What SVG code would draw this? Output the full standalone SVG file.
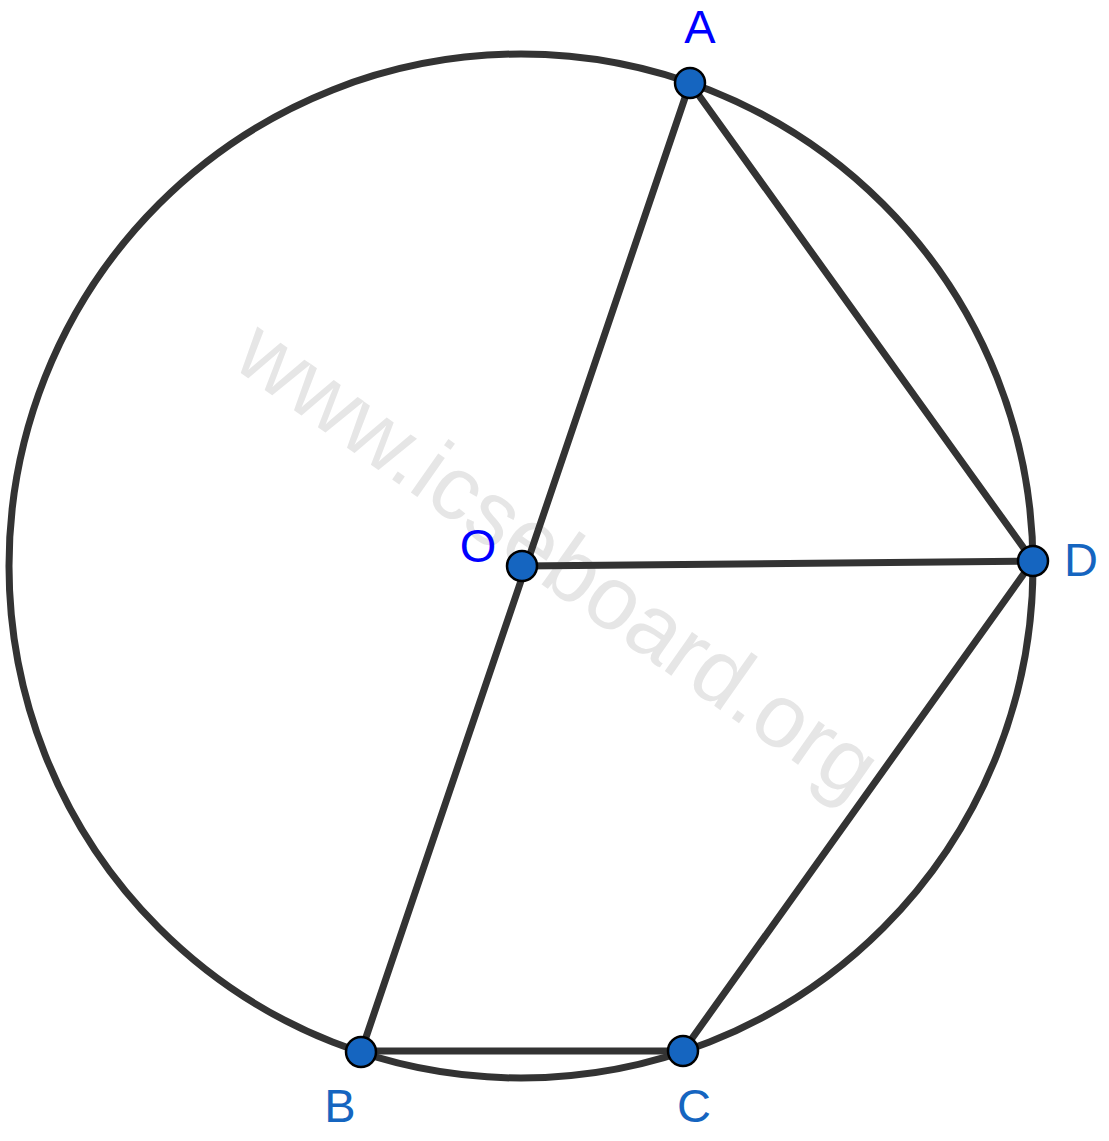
<svg xmlns="http://www.w3.org/2000/svg" width="1109" height="1141" viewBox="0 0 1109 1141">
<style>
.ln{stroke:#333333;stroke-width:7;fill:none;stroke-linecap:round}
.pt{fill:#1565c0;stroke:#000;stroke-width:2.5}
.lb{font-family:"Liberation Sans",Arial,sans-serif;font-size:47px;text-anchor:middle}
.wm{font-family:"Liberation Sans",Arial,sans-serif;font-size:90px;fill:#e6e6e6;text-anchor:middle}
</style>
<rect width="1109" height="1141" fill="#fff"/>
<text class="wm" transform="translate(541,584) rotate(35.1)">www.icseboard.org</text>
<g id="connectors">
<circle class="ln" cx="521" cy="566" r="512"/>
<line class="ln" x1="690" y1="83" x2="361" y2="1052"/>
<line class="ln" x1="522" y1="566" x2="1033" y2="561"/>
<line class="ln" x1="690" y1="83" x2="1033" y2="561"/>
<line class="ln" x1="1033" y1="561" x2="683" y2="1051"/>
<line class="ln" x1="361" y1="1051" x2="683" y2="1051"/>
</g>
<g id="A"><circle class="pt" cx="690" cy="83" r="15"/><text class="lb" x="700" y="43" fill="#0000ff">A</text></g>
<g id="O"><circle class="pt" cx="522" cy="566" r="15"/><text class="lb" x="478" y="562" fill="#0000ff">O</text></g>
<g id="D"><circle class="pt" cx="1033" cy="561" r="15"/><text class="lb" x="1081" y="576" fill="#1565c0">D</text></g>
<g id="B"><circle class="pt" cx="361" cy="1052" r="15"/><text class="lb" x="340" y="1122" fill="#1565c0">B</text></g>
<g id="C"><circle class="pt" cx="683" cy="1051" r="15"/><text class="lb" x="694" y="1122" fill="#1565c0">C</text></g>
</svg>
